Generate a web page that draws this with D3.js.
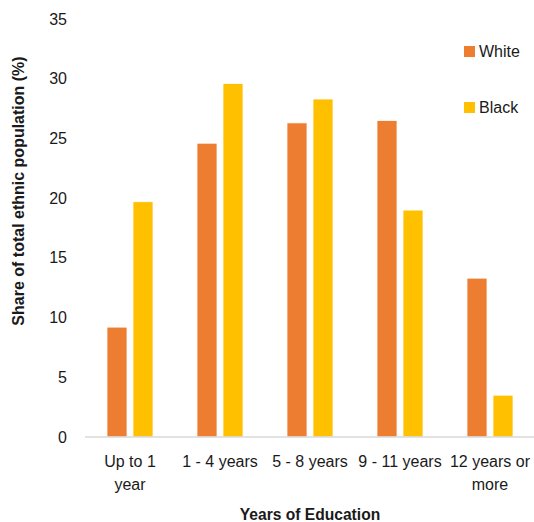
<!DOCTYPE html>
<html>
<head>
<meta charset="utf-8">
<script src="https://cdn.jsdelivr.net/npm/d3@7"></script>
<style>
body { margin: 0; background: #fff; }
text { font-family: "Liberation Sans", Arial, sans-serif; fill: #1a1a1a; }
</style>
</head>
<body>
<svg id="chart" width="534" height="522"></svg>
<script>
const categories = ["Up to 1 year", "1 - 4 years", "5 - 8 years", "9 - 11 years", "12 years or more"];
const categoryLines = [["Up to 1", "year"], ["1 - 4 years"], ["5 - 8 years"], ["9 - 11 years"], ["12 years or", "more"]];
const seriesNames = ["White", "Black"];
const whiteValues = [9.2, 24.6, 26.3, 26.5, 13.3];
const blackValues = [19.7, 29.6, 28.3, 19.0, 3.5];
const yTicks = [0, 5, 10, 15, 20, 25, 30, 35];
const colors = ["#ED7D31", "#FFC000"];

const svg = d3.select("#chart");
const mLeft = 85, mRight = 535, mTop = 19, mBottom = 437;

const x = d3.scaleBand().domain(categories).range([mLeft, mRight]).paddingInner(0).paddingOuter(0);
const y = d3.scaleLinear().domain([0, 35]).range([mBottom, mTop]);
const inner = d3.scaleBand().domain(seriesNames).range([22, 68]).paddingInner(6 / 26);

// y axis labels
const yAxis = svg.append("g").attr("transform", `translate(${mLeft},0)`)
  .call(d3.axisLeft(y).tickValues(yTicks).tickSize(0).tickPadding(18));
yAxis.select(".domain").remove();
yAxis.selectAll("text").style("font-family", "'Liberation Sans', Arial, sans-serif").style("font-size", "16px").attr("fill", "#1a1a1a");

const data = categories.map((c, i) => ({ c, vals: [whiteValues[i], blackValues[i]] }));

const groups = svg.append("g").selectAll("g").data(data).join("g")
  .attr("transform", d => `translate(${x(d.c)},0)`);
groups.selectAll("rect").data(d => d.vals.map((v, j) => ({ s: seriesNames[j], v, j })))
  .join("rect")
  .attr("x", d => inner(d.s))
  .attr("width", inner.bandwidth())
  .attr("y", d => y(d.v))
  .attr("height", d => y(0) - y(d.v))
  .attr("fill", d => colors[d.j])
  .attr("stroke", "#fff").attr("stroke-width", 0.75);

// baseline
svg.append("line").attr("x1", mLeft).attr("x2", mRight).attr("y1", y(0)).attr("y2", y(0))
  .attr("stroke", "#d9d9d9").attr("stroke-width", 1.5);

// x labels
const xl = svg.append("g").selectAll("text").data(categories).join("text")
  .attr("x", d => x(d) + x.bandwidth() / 2)
  .attr("y", 467)
  .attr("text-anchor", "middle")
  .style("font-size", "16px");
xl.each(function(d, i) {
  const t = d3.select(this);
  categoryLines[i].forEach((ln, k) => {
    t.append("tspan").attr("x", x(d) + x.bandwidth() / 2).attr("dy", k === 0 ? 0 : 23).text(ln);
  });
});

// axis titles
svg.append("text").attr("x", 310).attr("y", 520).attr("text-anchor", "middle")
  .style("font-size", "15.6px").style("font-weight", "bold").text("Years of Education");
svg.append("text").attr("transform", "translate(24,191) rotate(-90)").attr("text-anchor", "middle")
  .style("font-size", "16px").style("font-weight", "bold").text("Share of total ethnic population (%)");

// legend
const legend = svg.append("g").selectAll("g").data(seriesNames).join("g")
  .attr("transform", (d, i) => `translate(464,${46 + i * 56})`);
legend.append("rect").attr("width", 11).attr("height", 11).attr("fill", (d, i) => colors[i]);
legend.append("text").attr("x", 15).attr("y", 11).style("font-size", "16px").text(d => d);
</script>
</body>
</html>
